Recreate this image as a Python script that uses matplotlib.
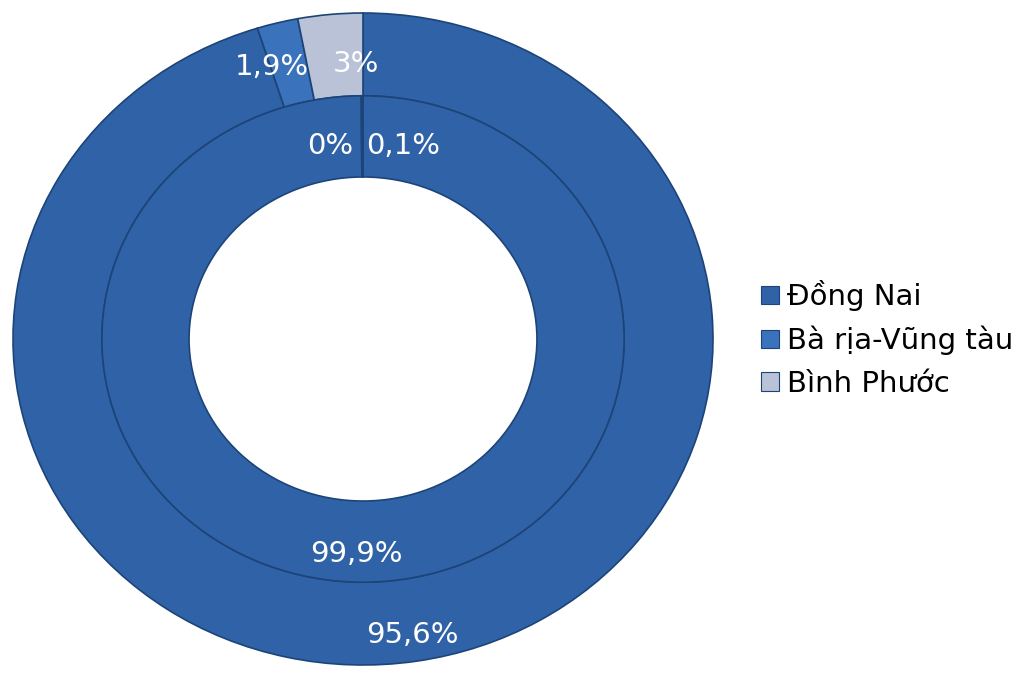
import numpy as np
import matplotlib.pyplot as plt
from matplotlib.patches import Patch

plt.rcParams['font.family'] = ['DejaVu Sans']

provinces = ['Đồng Nai', 'Bà rịa-Vũng tàu', 'Bình Phước']
outer_vals = [95.6, 1.9, 3.0]
inner_vals = [99.9, 0.0, 0.1]
outer_labels = ['95,6%', '1,9%', '3%']
inner_labels = ['99,9%', '0%', '0,1%']

colors = ['#2f62a7', '#3a72bb', '#b9c2d6']
edge = '#1d4478'

# label nudges (axes units), small slices overlap otherwise
outer_nudge = [(0.0, 0.0), (-0.036, -0.057), (0.066, -0.073)]
inner_nudge = [(-0.02, 0.0), (-0.089, -0.067), (0.117, -0.067)]

fig = plt.figure(figsize=(10.32, 6.74), dpi=100)
ax = fig.add_axes([13/1032, 9/674, 700/1032, 652/674])

r_out, w_out = 1.0, 0.254
r_in, w_in = 0.746, 0.249

w1, _ = ax.pie(outer_vals, radius=r_out, colors=colors, startangle=90,
               counterclock=False,
               wedgeprops=dict(width=w_out, edgecolor=edge, linewidth=1.2))
w2, _ = ax.pie(inner_vals, radius=r_in, colors=colors, startangle=90,
               counterclock=False,
               wedgeprops=dict(width=w_in, edgecolor=edge, linewidth=1.2))
ax.set_aspect('auto')
ax.set_xlim(-1, 1)
ax.set_ylim(-1, 1)


def put_labels(wedges, labels, rad, nudge):
    for wd, lab, (dx, dy) in zip(wedges, labels, nudge):
        ang = np.deg2rad((wd.theta1 + wd.theta2) / 2)
        x = rad * np.cos(ang) + dx
        y = rad * np.sin(ang) + dy
        ax.text(x, y, lab, color='white', fontsize=21, ha='center', va='center')


put_labels(w1, outer_labels, 0.92, outer_nudge)
put_labels(w2, inner_labels, 0.66, inner_nudge)

handles = [Patch(facecolor=c, edgecolor=edge, linewidth=0.8) for c in colors]
fig.legend(handles, provinces, loc='center left', bbox_to_anchor=(761/1032, 0.497),
           frameon=False, fontsize=21, handlelength=0.6, handleheight=0.6,
           handletextpad=0.28, labelspacing=0.5, borderpad=0, borderaxespad=0)

fig.savefig('out.png', dpi=100)
